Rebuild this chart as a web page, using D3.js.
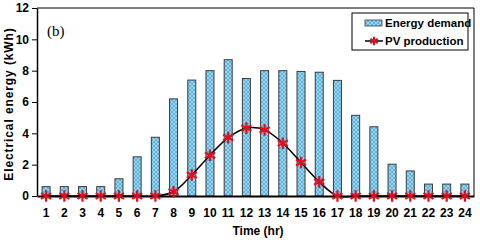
<!DOCTYPE html>
<html>
<head>
<meta charset="utf-8">
<script src="https://cdn.jsdelivr.net/npm/d3@7"></script>
<style>
  body { margin: 0; background: #fff; }
  svg text { font-family: "Liberation Sans Narrow", "Arial Narrow", "Liberation Sans", Arial, sans-serif; font-weight: bold; }
</style>
</head>
<body>
<div id="chart"></div>
<script>
// chart data
var hours = d3.range(1, 25);
var demand = [0.6, 0.6, 0.6, 0.6, 1.1, 2.5, 3.75, 6.2, 7.4, 8.0, 8.7, 7.5,
              8.0, 8.0, 7.95, 7.9, 7.38, 5.15, 4.42, 2.03, 1.6, 0.76, 0.76, 0.76];
var pv = [0, 0, 0, 0, 0, 0, 0, 0.27, 1.34, 2.6, 3.73, 4.33,
          4.22, 3.37, 2.14, 0.9, 0, 0, 0, 0, 0, 0, 0, 0];
var yTicks = [0, 2, 4, 6, 8, 10, 12];
var seriesNames = ["Energy demand", "PV production"];

var width = 480;
var height = 240;
var margin = { top: 8, right: 6, bottom: 44, left: 37 };

var svg = d3.select("#chart")
    .append("svg")
    .attr("width", width)
    .attr("height", height);

// crosshatched blue fill for the bars
var pat = svg.append("defs").append("pattern")
    .attr("id", "hatch")
    .attr("patternUnits", "userSpaceOnUse")
    .attr("width", 4)
    .attr("height", 4);
pat.append("rect").attr("width", 4).attr("height", 4).attr("fill", "#96d6f0");
pat.append("path").attr("d", "M0,4 L4,0 M0,0 L4,4").attr("stroke", "#4d9fcf").attr("stroke-width", 0.7);

var x = d3.scaleBand()
    .domain(hours)
    .range([margin.left, width - margin.right])
    .paddingInner(0.56)
    .paddingOuter(0.28);

var y = d3.scaleLinear()
    .domain([0, 12])
    .range([height - margin.bottom, margin.top]);

// plot frame (top and right)
svg.append("path")
    .attr("d", "M" + margin.left + "," + margin.top + "H" + (width - margin.right) + "V" + (height - margin.bottom))
    .attr("fill", "none")
    .attr("stroke", "#000")
    .attr("stroke-width", 1);

// bars
svg.selectAll("rect.bar")
    .data(demand)
    .enter().append("rect")
    .attr("class", "bar")
    .attr("x", (d, i) => x(hours[i]))
    .attr("y", d => y(d))
    .attr("width", x.bandwidth())
    .attr("height", d => y(0) - y(d))
    .attr("fill", "url(#hatch)")
    .attr("stroke", "#3c3c3c")
    .attr("stroke-width", 1);

// axes
var yAxis = svg.append("g")
    .attr("transform", "translate(" + margin.left + ",0)")
    .call(d3.axisLeft(y).tickValues(yTicks).tickSize(5).tickPadding(3).tickSizeOuter(0));
yAxis.select(".domain").attr("stroke-width", 1.5);
yAxis.selectAll("text").attr("font-size", 12).attr("fill", "#000");

var xAxis = svg.append("g")
    .attr("transform", "translate(0," + y(0) + ")")
    .call(d3.axisBottom(x).tickSize(0).tickPadding(12).tickSizeOuter(0));
xAxis.select(".domain").attr("stroke-width", 2);
xAxis.selectAll("text").attr("font-size", 12).attr("fill", "#000");

// PV curve
var pvPts = pv.map((d, i) => [x(hours[i]) + x.bandwidth() / 2, y(d)]);
svg.append("path")
    .datum(pvPts)
    .attr("d", d3.line().curve(d3.curveCatmullRom.alpha(0.5)))
    .attr("fill", "none")
    .attr("stroke", "#000")
    .attr("stroke-width", 1.5);

var star = d3.symbol().type(d3.symbolAsterisk).size(95);
svg.selectAll("path.pv")
    .data(pvPts)
    .enter().append("path")
    .attr("class", "pv")
    .attr("transform", d => "translate(" + d[0] + "," + d[1] + ")")
    .attr("d", star)
    .attr("fill", "none")
    .attr("stroke", "#dd1020")
    .attr("stroke-width", 2.2);

// axis titles
svg.append("text")
    .attr("x", 258)
    .attr("y", 235)
    .attr("text-anchor", "middle")
    .attr("font-size", 12)
    .text("Time (hr)");

svg.append("text")
    .attr("transform", "rotate(-90)")
    .attr("x", -104)
    .attr("y", 13)
    .attr("text-anchor", "middle")
    .attr("font-size", 12)
    .style("font-family", "'Liberation Sans', Arial, sans-serif")
    .style("letter-spacing", "0.9px")
    .text("Electrical energy (kWh)");

// panel tag
svg.append("text")
    .attr("x", 47)
    .attr("y", 36)
    .attr("font-size", 15)
    .style("font-family", "'Liberation Serif', 'Times New Roman', serif")
    .style("font-weight", "normal")
    .text("(b)");

// legend
var legend = svg.append("g")
    .attr("transform", "translate(352,13)");

legend.append("rect")
    .attr("width", 116)
    .attr("height", 37)
    .attr("fill", "#fff")
    .attr("stroke", "#000")
    .attr("stroke-width", 1);

legend.append("rect")
    .attr("x", 13)
    .attr("y", 7)
    .attr("width", 17)
    .attr("height", 6)
    .attr("fill", "url(#hatch)")
    .attr("stroke", "#3c3c3c")
    .attr("stroke-width", 0.8);

legend.append("text")
    .attr("x", 33)
    .attr("y", 14)
    .attr("font-size", 11.5)
    .text(seriesNames[0]);

legend.append("line")
    .attr("x1", 13)
    .attr("x2", 31)
    .attr("y1", 28)
    .attr("y2", 28)
    .attr("stroke", "#000")
    .attr("stroke-width", 1.5);

legend.append("path")
    .attr("transform", "translate(22,28)")
    .attr("d", d3.symbol().type(d3.symbolAsterisk).size(50))
    .attr("fill", "none")
    .attr("stroke", "#dd1020")
    .attr("stroke-width", 2);

legend.append("text")
    .attr("x", 33)
    .attr("y", 32)
    .attr("font-size", 11.5)
    .text(seriesNames[1]);
</script>
</body>
</html>
